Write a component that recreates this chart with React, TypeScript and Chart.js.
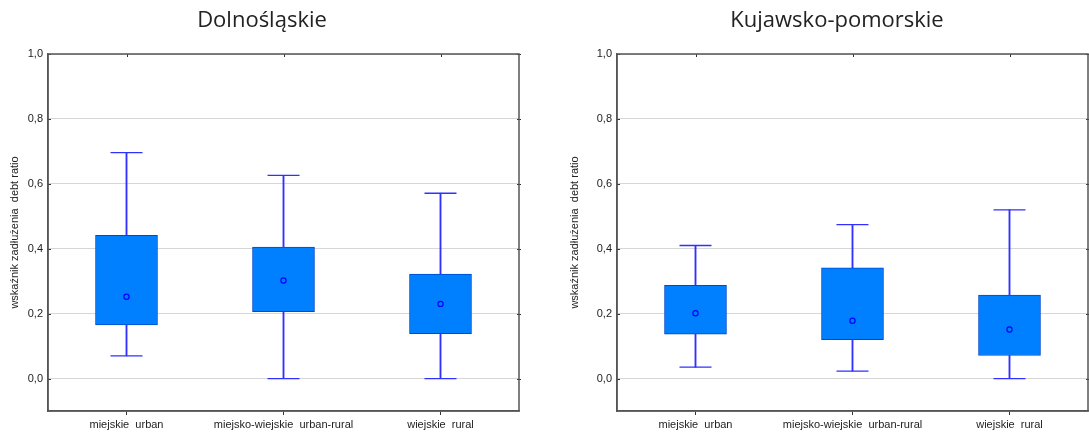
import React, { useEffect, useRef } from 'react';
import { Chart, registerables } from 'chart.js';

Chart.register(...registerables);

const categories = ['miejskie  urban', 'miejsko-wiejskie  urban-rural', 'wiejskie  rural'];
const yTickValues = [0, 0.2, 0.4, 0.6, 0.8, 1.0];
const yTitle = 'wskaźnik zadłużenia  debt ratio';

const dolnoTitle = 'Dolnośląskie';
const dolnoMin = [0.07, 0.0, 0.0];
const dolnoQ1 = [0.165, 0.206, 0.138];
const dolnoQ3 = [0.441, 0.405, 0.322];
const dolnoMax = [0.696, 0.626, 0.571];
const dolnoMean = [0.252, 0.302, 0.23];

const kujTitle = 'Kujawsko-pomorskie';
const kujMin = [0.035, 0.023, 0.0];
const kujQ1 = [0.137, 0.12, 0.071];
const kujQ3 = [0.287, 0.341, 0.257];
const kujMax = [0.41, 0.474, 0.52];
const kujMean = [0.201, 0.178, 0.151];

const BOX_FILL = '#0080ff';
const BOX_BORDER = '#0048cc';
const WHISKER = '#3030ff';
const MEAN = '#0000ff';
const FRAME = '#555555';
const TEXT = '#222222';
const FONT = "'Liberation Sans', Arial, sans-serif";

// Draws the closed frame around the plot area plus the small mirrored tick marks
const framePlugin = {
  id: 'frame',
  afterDraw(chart: any) {
    const { ctx, chartArea, scales } = chart;
    const { left, right, top, bottom } = chartArea;
    ctx.save();
    ctx.strokeStyle = '#333333';
    ctx.lineWidth = 1;
    ctx.beginPath();
    scales.y.ticks.forEach((t: any) => {
      const py = Math.round(scales.y.getPixelForValue(t.value)) + 0.5;
      ctx.moveTo(left, py);
      ctx.lineTo(left + 3, py);
      ctx.moveTo(right - 2, py);
      ctx.lineTo(right + 2, py);
    });
    scales.x.ticks.forEach((t: any, i: number) => {
      const px = Math.round(scales.x.getPixelForTick(i)) + 0.5;
      ctx.moveTo(px, top);
      ctx.lineTo(px, top + 3);
    });
    ctx.stroke();
    ctx.strokeStyle = FRAME;
    ctx.lineWidth = 1.5;
    ctx.strokeRect(left, top, right - left, bottom - top);
    ctx.restore();
  },
};

function buildConfig(
  title: string,
  mins: number[],
  q1s: number[],
  q3s: number[],
  maxs: number[],
  means: number[],
  yWidth: number,
  padRight: number
): any {
  return {
    type: 'bar',
    data: {
      labels: categories,
      datasets: [
        {
          type: 'line',
          data: means,
          showLine: false,
          pointStyle: 'circle',
          pointRadius: 2.6,
          pointBorderWidth: 1.2,
          pointBorderColor: MEAN,
          pointBackgroundColor: 'rgba(0,0,0,0)',
        },
        {
          type: 'bar',
          data: q1s.map((q, i) => [q, q3s[i]]),
          backgroundColor: BOX_FILL,
          borderColor: BOX_BORDER,
          borderWidth: 1,
          borderSkipped: false,
          barThickness: 62,
          grouped: false,
        },
        {
          type: 'bar',
          data: mins.map((m, i) => [m, q1s[i]]),
          backgroundColor: WHISKER,
          borderWidth: 0,
          barThickness: 1.2,
          grouped: false,
        },
        {
          type: 'bar',
          data: q3s.map((q, i) => [q, maxs[i]]),
          backgroundColor: WHISKER,
          borderWidth: 0,
          barThickness: 1.2,
          grouped: false,
        },
        {
          type: 'line',
          data: mins,
          showLine: false,
          pointStyle: 'line',
          pointRadius: 16,
          pointBorderWidth: 1.3,
          pointBorderColor: WHISKER,
        },
        {
          type: 'line',
          data: maxs,
          showLine: false,
          pointStyle: 'line',
          pointRadius: 16,
          pointBorderWidth: 1.3,
          pointBorderColor: WHISKER,
        },
      ],
    },
    options: {
      responsive: false,
      animation: false,
      events: [],
      layout: { padding: 0, autoPadding: false },
      plugins: {
        legend: { display: false },
        tooltip: { enabled: false },
        title: {
          display: true,
          text: title,
          color: TEXT,
          font: { family: "'Open Sans', sans-serif", size: 22, weight: 'normal', lineHeight: 1.2 },
          padding: { top: 8, bottom: 19.6 },
        },
      },
      scales: {
        x: {
          type: 'category',
          offset: true,
          afterFit: (s: any) => {
            s.height = 22;
            s.paddingLeft = 0;
            s.paddingRight = 0;
          },
          grid: {
            display: true,
            drawOnChartArea: false,
            drawTicks: true,
            tickLength: 4,
            tickColor: '#333333',
            offset: false,
          },
          border: { display: true, color: FRAME, width: 1.5 },
          ticks: {
            color: TEXT,
            font: { family: FONT, size: 11 },
            padding: 3,
            maxRotation: 0,
            autoSkip: false,
          },
        },
        y: {
          type: 'linear',
          min: -0.1,
          max: 1.0,
          afterFit: (s: any) => {
            s.width = yWidth;
          },
          afterBuildTicks: (s: any) => {
            s.ticks = yTickValues.map((v) => ({ value: v }));
          },
          grid: { color: '#d6d6d6', lineWidth: 1, drawTicks: false },
          border: { display: true, color: FRAME, width: 1.5 },
          ticks: {
            color: TEXT,
            font: { family: FONT, size: 11 },
            padding: 5,
            callback: (v: any) => Number(v).toFixed(1).replace('.', ','),
          },
          title: {
            display: true,
            text: yTitle,
            color: TEXT,
            font: { family: FONT, size: 11 },
            padding: { top: 8, bottom: 0 },
          },
        },
        spacer: {
          type: 'linear',
          axis: 'y',
          position: 'right',
          min: -0.1,
          max: 1.0,
          afterFit: (s: any) => {
            s.width = padRight;
          },
          grid: { display: false },
          border: { display: false },
          ticks: { display: false },
        },
      },
    },
    plugins: [framePlugin],
  };
}

function BoxChart(props: {
  left: number;
  width: number;
  title: string;
  mins: number[];
  q1s: number[];
  q3s: number[];
  maxs: number[];
  means: number[];
  yWidth: number;
  padRight: number;
}) {
  const ref = useRef<HTMLCanvasElement | null>(null);
  useEffect(() => {
    if (!ref.current) return;
    const chart = new Chart(
      ref.current,
      buildConfig(props.title, props.mins, props.q1s, props.q3s, props.maxs, props.means, props.yWidth, props.padRight)
    );
    return () => chart.destroy();
  }, []);
  return (
    <canvas
      ref={ref}
      width={props.width}
      height={433}
      style={{ position: 'absolute', left: props.left, top: 0, width: props.width, height: 433 }}
    />
  );
}

export default function App() {
  return (
    <div
      style={{
        position: 'absolute',
        left: 0,
        top: 0,
        width: 1089,
        height: 433,
        overflow: 'hidden',
        background: '#ffffff',
      }}
    >
      <BoxChart
        left={0}
        width={524}
        title={dolnoTitle}
        mins={dolnoMin}
        q1s={dolnoQ1}
        q3s={dolnoQ3}
        maxs={dolnoMax}
        means={dolnoMean}
        yWidth={48}
        padRight={5}
      />
      <BoxChart
        left={560}
        width={554}
        title={kujTitle}
        mins={kujMin}
        q1s={kujQ1}
        q3s={kujQ3}
        maxs={kujMax}
        means={kujMean}
        yWidth={57}
        padRight={26}
      />
    </div>
  );
}
